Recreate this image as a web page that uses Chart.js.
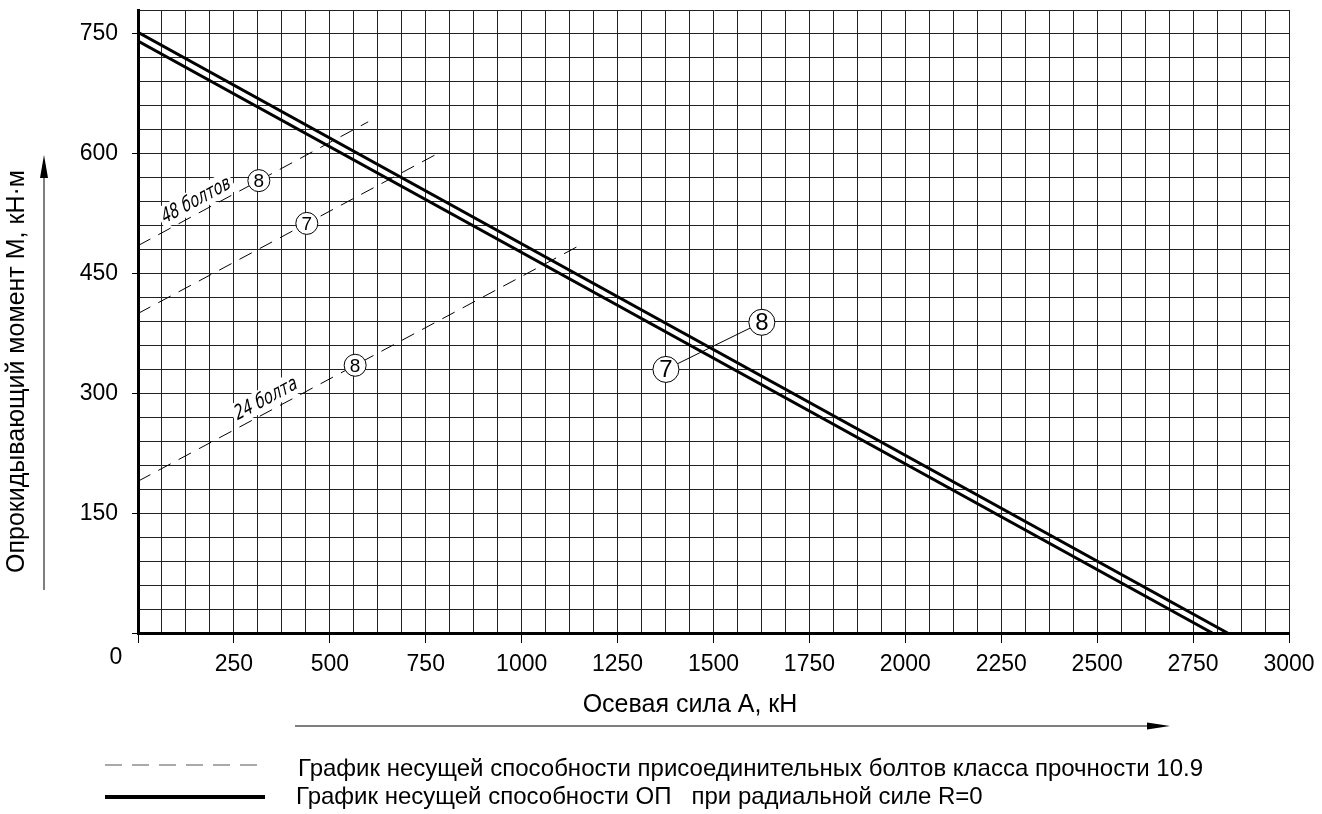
<!DOCTYPE html>
<html>
<head>
<meta charset="utf-8">
<script src="https://cdn.jsdelivr.net/npm/chart.js@4.4.0/dist/chart.umd.min.js"></script>
<style>
  html, body { margin: 0; padding: 0; background: #fff; }
  #wrap { width: 1322px; height: 814px; }
</style>
</head>
<body>
<div id="wrap"><canvas id="chart" width="1322" height="814"></canvas></div>
<script>
// Axial force A, kN (x) and overturning moment M, kN·m (y)
const xTickValues = [0, 250, 500, 750, 1000, 1250, 1500, 1750, 2000, 2250, 2500, 2750, 3000];
const yTickValues = [0, 150, 300, 450, 600, 750];
const xGridStep = 62.5;
const yGridStep = 30;
const xMax = 3000;
const yMax = 780;

// Capacity of the mounting bolts, strength class 10.9
const bolt48pos8A = [0, 600];
const bolt48pos8M = [485, 640];
const bolt48pos7A = [0, 780];
const bolt48pos7M = [400, 600];
const bolt24pos8A = [0, 1150];
const bolt24pos8M = [190, 485];

// Capacity of the slewing bearing at radial force R = 0
const bearingPos8A = [0, 2840];
const bearingPos8M = [752, 0];
const bearingPos7A = [0, 2800];
const bearingPos7M = [741, 0];

// Circled position numbers sitting on the bolt curves (A where the mark sits)
const boltMarks = [
  { a: bolt48pos8A, m: bolt48pos8M, at: 315, text: '8' },
  { a: bolt48pos7A, m: bolt48pos7M, at: 440, text: '7' },
  { a: bolt24pos8A, m: bolt24pos8M, at: 566, text: '8' }
];
// Rotated captions of the bolt curves
const boltCaptions = [
  { a: bolt48pos8A, m: bolt48pos8M, at: 167, text: '48 болтов', len: 76 },
  { a: bolt24pos8A, m: bolt24pos8M, at: 349, text: '24 болта', len: 69 }
];
// Callout for the bearing curves: position numbers joined by a leader
const bearingCalloutA = [1376, 1626];
const bearingCalloutM = [330, 389];
const bearingCalloutText = ['7', '8'];

const axisTitleX = 'Осевая сила А, кН';
const axisTitleY = 'Опрокидывающий момент М, кН·м';
const legendDashed = 'График несущей способности присоединительных болтов класса прочности 10.9';
const legendSolid = 'График несущей способности ОП   при радиальной силе R=0';

const FONT = "'Liberation Sans', Arial, sans-serif";

const toPoints = (a, m) => a.map((v, i) => ({ x: v, y: m[i] }));
const gridValues = (max, step) => {
  const out = [];
  for (let v = 0; v <= max + 1e-9; v += step) out.push({ value: v });
  return out;
};
const isMajor = (list, v) => list.some(t => Math.abs(t - v) < 1e-6);
const interp = (a, m, x) => m[0] + (m[1] - m[0]) * (x - a[0]) / (a[1] - a[0]);

function lineDataset(a, m, width, dash) {
  return {
    data: toPoints(a, m),
    borderColor: '#000',
    borderWidth: width,
    borderDash: dash || [],
    pointRadius: 0,
    fill: false,
    tension: 0
  };
}

function circledNumber(ctx, x, y, r, size, text) {
  ctx.save();
  ctx.beginPath();
  ctx.arc(x, y, r, 0, Math.PI * 2);
  ctx.fillStyle = '#fff';
  ctx.fill();
  ctx.lineWidth = 1;
  ctx.strokeStyle = '#000';
  ctx.stroke();
  ctx.fillStyle = '#000';
  ctx.font = size + 'px ' + FONT;
  ctx.textAlign = 'center';
  ctx.textBaseline = 'middle';
  ctx.fillText(text, x, y + 1);
  ctx.restore();
}

function arrowHead(ctx, tipX, tipY, dirX, dirY, len, half) {
  const bx = tipX - dirX * len, by = tipY - dirY * len;
  ctx.beginPath();
  ctx.moveTo(tipX, tipY);
  ctx.lineTo(bx - dirY * half, by + dirX * half);
  ctx.lineTo(bx + dirY * half, by - dirX * half);
  ctx.closePath();
  ctx.fill();
}

const drawingNotes = {
  id: 'drawingNotes',
  beforeDatasetsDraw(chart) {
    const ctx = chart.ctx;
    const sx = chart.scales.x, sy = chart.scales.y;
    boltCaptions.forEach(c => {
      const x0 = sx.getPixelForValue(c.a[0]), y0 = sy.getPixelForValue(c.m[0]);
      const x1 = sx.getPixelForValue(c.a[1]), y1 = sy.getPixelForValue(c.m[1]);
      const ang = Math.atan2(y1 - y0, x1 - x0);
      const fx = sx.getPixelForValue(c.at), fy = sy.getPixelForValue(interp(c.a, c.m, c.at));
      const lift = 13;
      const cx = fx + Math.sin(ang) * lift, cy = fy - Math.cos(ang) * lift;
      ctx.save();
      ctx.translate(cx, cy);
      ctx.rotate(ang);
      ctx.fillStyle = '#fff';
      ctx.fillRect(-c.len / 2 - 3, -11, c.len + 6, 22);
      ctx.font = "italic 20px 'DejaVu Sans Condensed', 'Liberation Sans Narrow', sans-serif";
      const w = ctx.measureText(c.text).width;
      ctx.transform(c.len / w, 0, -0.12, 1, 0, 0);
      ctx.fillStyle = '#000';
      ctx.textAlign = 'center';
      ctx.textBaseline = 'middle';
      ctx.fillText(c.text, 0, 1);
      ctx.restore();
    });
  },
  afterDatasetsDraw(chart) {
    const ctx = chart.ctx;
    const sx = chart.scales.x, sy = chart.scales.y;

    // position numbers on the bolt curves
    boltMarks.forEach(b => {
      const x = sx.getPixelForValue(b.at);
      const y = sy.getPixelForValue(interp(b.a, b.m, b.at));
      circledNumber(ctx, x, y, 11, 19, b.text);
    });

    // leader and position numbers of the bearing curves
    const p = bearingCalloutA.map((a, i) => [sx.getPixelForValue(a), sy.getPixelForValue(bearingCalloutM[i])]);
    ctx.save();
    ctx.strokeStyle = '#000';
    ctx.lineWidth = 1;
    ctx.beginPath();
    ctx.moveTo(p[0][0], p[0][1]);
    ctx.lineTo(p[1][0], p[1][1]);
    ctx.stroke();
    ctx.restore();
    p.forEach((pt, i) => circledNumber(ctx, pt[0], pt[1], 13, 24, bearingCalloutText[i]));

    ctx.save();
    ctx.fillStyle = '#000';
    ctx.textBaseline = 'middle';

    // origin label
    ctx.font = '23px ' + FONT;
    ctx.textAlign = 'center';
    ctx.fillText('0', 116, 658);

    // x axis title with arrow
    ctx.font = '25px ' + FONT;
    ctx.fillText(axisTitleX, 690, 705);
    ctx.strokeStyle = '#555';
    ctx.lineWidth = 1.5;
    ctx.beginPath();
    ctx.moveTo(295, 726);
    ctx.lineTo(1150, 726);
    ctx.stroke();
    arrowHead(ctx, 1170, 726, 1, 0, 23, 3.5);

    // y axis title with arrow
    ctx.save();
    ctx.translate(17, 573);
    ctx.rotate(-Math.PI / 2);
    ctx.textAlign = 'left';
    ctx.fillText(axisTitleY, 0, 0);
    ctx.restore();
    ctx.beginPath();
    ctx.moveTo(44, 590);
    ctx.lineTo(44, 175);
    ctx.stroke();
    arrowHead(ctx, 44, 155, 0, -1, 23, 4);

    // legend
    ctx.strokeStyle = '#555';
    ctx.lineWidth = 1;
    ctx.setLineDash([17, 10]);
    ctx.beginPath();
    ctx.moveTo(105, 765);
    ctx.lineTo(266, 765);
    ctx.stroke();
    ctx.setLineDash([]);
    ctx.strokeStyle = '#000';
    ctx.lineWidth = 4;
    ctx.beginPath();
    ctx.moveTo(105, 797);
    ctx.lineTo(265, 797);
    ctx.stroke();
    ctx.font = '24px ' + FONT;
    ctx.textAlign = 'left';
    ctx.fillText(legendDashed, 298, 769);
    ctx.fillText(legendSolid, 296, 797);
    ctx.restore();
  }
};

new Chart(document.getElementById('chart'), {
  type: 'line',
  data: {
    datasets: [
      lineDataset(bearingPos8A, bearingPos8M, 3),
      lineDataset(bearingPos7A, bearingPos7M, 3),
      lineDataset(bolt48pos8A, bolt48pos8M, 1, [14, 9]),
      lineDataset(bolt48pos7A, bolt48pos7M, 1, [14, 9]),
      lineDataset(bolt24pos8A, bolt24pos8M, 1, [14, 9])
    ]
  },
  options: {
    responsive: false,
    animation: false,
    devicePixelRatio: 1,
    layout: { padding: { left: 0, top: 10, right: 33, bottom: 0 } },
    plugins: { legend: { display: false }, tooltip: { enabled: false } },
    scales: {
      x: {
        type: 'linear',
        min: 0,
        max: xMax,
        afterBuildTicks: s => { s.ticks = gridValues(xMax, xGridStep); },
        afterFit: s => { s.height = 181; s.paddingLeft = 0; s.paddingRight = 0; },
        grid: {
          color: '#222',
          lineWidth: 1,
          tickLength: 10,
          tickWidth: 1,
          tickColor: c => (c.tick && isMajor(xTickValues, c.tick.value)) ? '#000' : 'rgba(0,0,0,0)'
        },
        border: { color: '#000', width: 3 },
        ticks: {
          autoSkip: false,
          maxRotation: 0,
          minRotation: 0,
          padding: 8,
          color: '#000',
          font: { family: FONT, size: 23 },
          callback: v => (isMajor(xTickValues, v) && v !== 0) ? String(v) : ''
        }
      },
      y: {
        type: 'linear',
        min: 0,
        max: yMax,
        afterBuildTicks: s => { s.ticks = gridValues(yMax, yGridStep); },
        afterFit: s => { s.width = 138; s.paddingTop = 0; s.paddingBottom = 0; },
        grid: {
          color: '#222',
          lineWidth: 1,
          tickLength: 6,
          tickWidth: 1,
          tickColor: c => (c.tick && isMajor(yTickValues, c.tick.value)) ? '#000' : 'rgba(0,0,0,0)'
        },
        border: { color: '#000', width: 3 },
        ticks: {
          autoSkip: false,
          padding: 14,
          color: '#000',
          font: { family: FONT, size: 23 },
          callback: v => (isMajor(yTickValues, v) && v !== 0) ? String(v) : ''
        }
      }
    }
  },
  plugins: [drawingNotes]
});
</script>
</body>
</html>
